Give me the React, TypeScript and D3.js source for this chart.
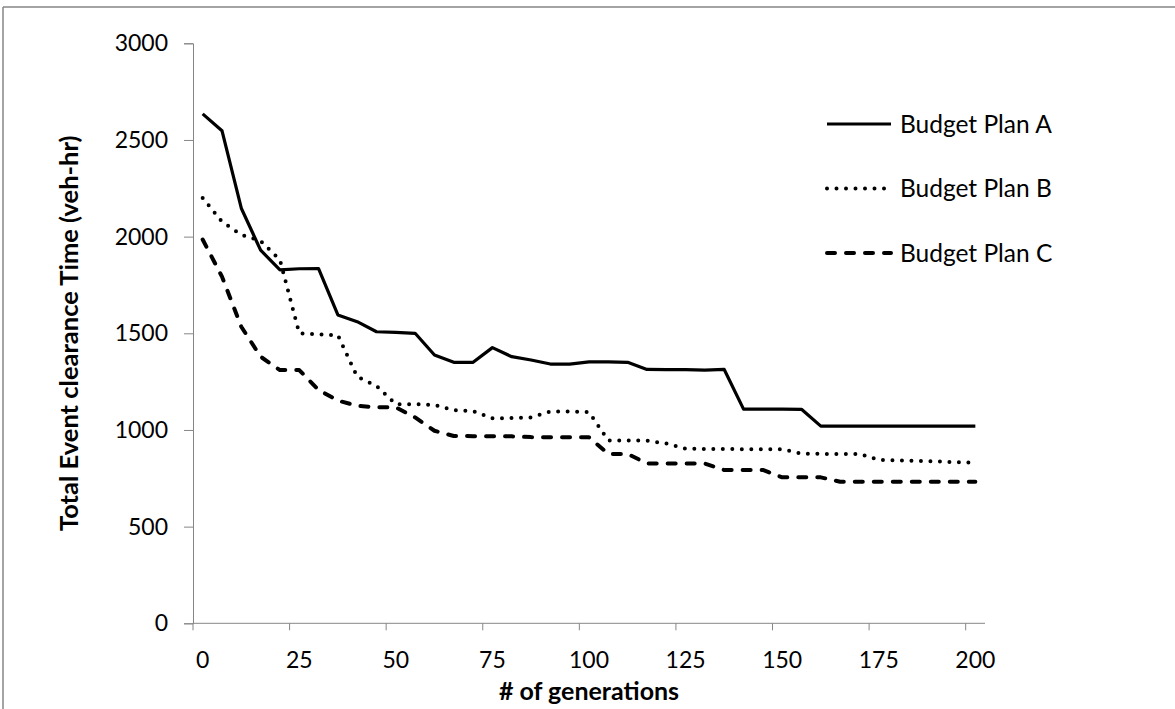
import React, { useRef, useEffect } from "react";
import * as d3 from "d3";

// generations sampled every 5
const generations = d3.range(0, 201, 5);

const planA = [
  2635, 2548, 2147, 1930, 1828, 1834, 1835, 1595, 1560, 1508, 1505, 1500, 1388, 1350,
  1350, 1426, 1379, 1362, 1341, 1341, 1352, 1352, 1350, 1313, 1312, 1312, 1310, 1313,
  1108, 1108, 1108, 1107, 1020, 1020, 1020, 1020, 1020, 1020, 1020, 1020, 1020,
];
const planB = [
  2200, 2077, 2010, 1978, 1880, 1500, 1495, 1490, 1275, 1228, 1133, 1133, 1130, 1102,
  1098, 1060, 1062, 1065, 1095, 1095, 1092, 946, 945, 945, 930, 903, 902, 902,
  900, 900, 900, 878, 876, 876, 876, 845, 843, 840, 838, 833, 830,
];
const planC = [
  1985, 1793, 1534, 1379, 1310, 1310, 1207, 1152, 1125, 1117, 1117, 1065, 996, 969,
  968, 968, 967, 963, 962, 962, 962, 876, 876, 827, 827, 827, 826, 793,
  793, 793, 755, 755, 755, 732, 732, 732, 732, 732, 732, 732, 732,
];

const seriesNames = ["Budget Plan A", "Budget Plan B", "Budget Plan C"];
const xTickLabels = [0, 25, 50, 75, 100, 125, 150, 175, 200];
const yTickLabels = [0, 500, 1000, 1500, 2000, 2500, 3000];

const App = () => {
  const svgRef = useRef(null);

  useEffect(() => {
    const svg = d3.select(svgRef.current);
    svg.selectAll("*").remove();

    const width = 1175;
    const height = 709;
    const plot = { left: 193, right: 985, top: 43.3, bottom: 623.3 };
    const font = "Lato, 'Open Sans', sans-serif";
    const axisColor = "#868686";
    const labelSize = 23;

    // frame of the chart area
    svg.append("line").attr("x1", 3).attr("x2", width).attr("y1", 7).attr("y2", 7)
      .attr("stroke", axisColor).attr("stroke-width", 1.5);
    svg.append("line").attr("x1", 3).attr("x2", 3).attr("y1", 7).attr("y2", height)
      .attr("stroke", axisColor).attr("stroke-width", 1.5);

    // category axis: ticks sit between points, so pad by half a step
    const x = d3.scaleLinear().domain([-2.5, 202.5]).range([plot.left, plot.right]);
    const y = d3.scaleLinear().domain([0, 3000]).range([plot.bottom, plot.top]);

    // y axis
    const yAxis = svg.append("g")
      .attr("transform", `translate(${plot.left},0)`)
      .call(d3.axisLeft(y).tickValues(yTickLabels).tickSize(9).tickPadding(16).tickFormat(d3.format("d")));
    yAxis.select(".domain").attr("stroke", axisColor);
    yAxis.selectAll(".tick line").attr("stroke", axisColor);
    yAxis.selectAll("text").attr("font-family", font).attr("font-size", labelSize).attr("fill", "#000");

    // x axis line + ticks
    const xAxis = svg.append("g").attr("transform", `translate(0,${plot.bottom})`);
    xAxis.append("line").attr("x1", plot.left).attr("x2", plot.right)
      .attr("stroke", axisColor);
    xAxis.selectAll(".xt")
      .data(xTickLabels)
      .enter()
      .append("line")
      .attr("x1", (d) => x(d - 2.5))
      .attr("x2", (d) => x(d - 2.5))
      .attr("y1", 0)
      .attr("y2", 7)
      .attr("stroke", axisColor);
    xAxis.selectAll(".xl")
      .data(xTickLabels)
      .enter()
      .append("text")
      .attr("x", (d) => x(d))
      .attr("y", 45)
      .attr("text-anchor", "middle")
      .attr("font-family", font)
      .attr("font-size", labelSize)
      .text((d) => d);

    // axis titles
    svg.append("text")
      .attr("x", (plot.left + plot.right) / 2)
      .attr("y", 700)
      .attr("text-anchor", "middle")
      .attr("font-family", font)
      .attr("font-weight", "bold")
      .attr("font-size", 25)
      .text("# of generations");

    svg.append("text")
      .attr("transform", `translate(78,${(plot.top + plot.bottom) / 2}) rotate(-90)`)
      .attr("text-anchor", "middle")
      .attr("font-family", font)
      .attr("font-weight", "bold")
      .attr("font-size", 25.5)
      .text("Total Event clearance Time (veh-hr)");

    const styles = [
      { dash: null, width: 3.2, cap: "butt" },
      { dash: "0 9.5", width: 4, cap: "round" },
      { dash: "8 11", width: 4, cap: "round" },
    ];
    const allSeries = [planA, planB, planC];

    const line = d3.line()
      .x((d, i) => x(generations[i]))
      .y((d) => y(d));

    allSeries.forEach((values, i) => {
      svg.append("path")
        .datum(values)
        .attr("d", line)
        .attr("fill", "none")
        .attr("stroke", "#000")
        .attr("stroke-width", styles[i].width)
        .attr("stroke-linecap", styles[i].cap)
        .attr("stroke-linejoin", "round")
        .attr("stroke-dasharray", styles[i].dash);
    });

    // legend
    const legend = svg.append("g").attr("transform", "translate(825,124)");
    seriesNames.forEach((name, i) => {
      const row = legend.append("g").attr("transform", `translate(0,${i * 64.5})`);
      row.append("line")
        .attr("x1", 2)
        .attr("x2", i === 1 ? 62 : 66)
        .attr("stroke", "#000")
        .attr("stroke-width", styles[i].width)
        .attr("stroke-linecap", styles[i].cap)
        .attr("stroke-dasharray", styles[i].dash);
      row.append("text")
        .attr("x", 75)
        .attr("y", 0)
        .attr("dy", "0.35em")
        .attr("font-family", font)
        .attr("font-size", 24.5)
        .text(name);
    });
  }, []);

  return (
    <div style={{ position: "absolute", left: 0, top: 0 }}>
      <svg ref={svgRef} width={1175} height={709}></svg>
    </div>
  );
};

export default App;
